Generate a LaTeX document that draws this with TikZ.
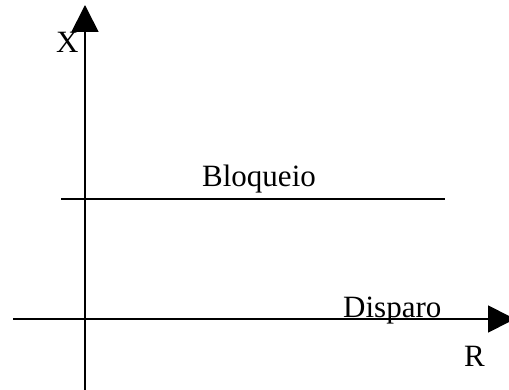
\documentclass[tikz,border=0pt]{standalone}
\usepackage{fontspec}
\setmainfont{Liberation Serif}
\usetikzlibrary{arrows.meta}
\begin{document}
\begin{tikzpicture}[x=1pt,y=-1pt,
  axis/.style={line width=1.7pt,-{Triangle[length=27pt,width=27pt]}},
  plain/.style={line width=1.7pt},
  lbl/.style={anchor=base west,inner sep=0pt,font=\fontsize{31}{36}\selectfont}]
\useasboundingbox (0,0) rectangle (509,390);
\coordinate (ybot) at (85,392);
\coordinate (ytop) at (85,5);
\coordinate (xleft) at (13,319);
\coordinate (xright) at (515,319);
\coordinate (bl) at (61,199);
\coordinate (br) at (445,199);
\draw[axis] (ybot) -- (ytop);
\draw[axis] (xleft) -- (xright);
\draw[plain] (bl) -- (br);
\node[lbl] (xl) at (56,53) {X};
\node[lbl] (blq) at (202,187) {Bloqueio};
\node[lbl] (dsp) at (343,317) {Disparo};
\node[lbl] (rl) at (464,366) {R};
\end{tikzpicture}
\end{document}
